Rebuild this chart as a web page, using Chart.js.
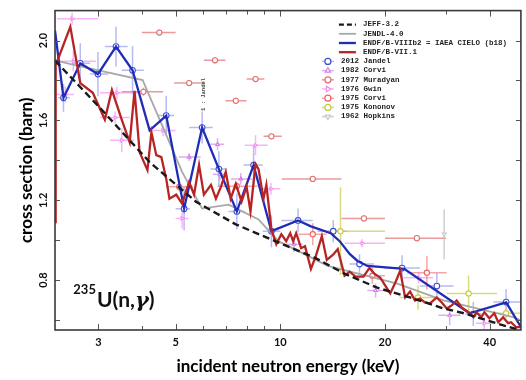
<!DOCTYPE html>
<html>
<head>
<meta charset="utf-8">
<script src="https://cdn.jsdelivr.net/npm/chart.js@4.4.1/dist/chart.umd.min.js"></script>
<style>
  html, body { margin: 0; padding: 0; background: #fff; }
</style>
</head>
<body>
<canvas id="chart" width="526" height="380"></canvas>
<script>
// evaluations: [energy (keV), cross section (barn)]
const jeff32 = [
  [2.25, 1.90], [3.03, 1.663], [4.21, 1.391], [5.72, 1.193], [7.45, 1.079], [9.68, 0.995],
  [12.6, 0.911], [15.3, 0.832], [19.0, 0.762], [23.6, 0.713], [29.5, 0.658], [33.7, 0.634],
  [41.8, 0.584], [48.6, 0.55]
];
const jendl40 = [
  [2.25, 1.901], [2.66, 1.871], [4.02, 1.802], [5.22, 1.342], [5.96, 1.158], [7.11, 1.178],
  [8.66, 1.104], [9.87, 0.995], [13.7, 0.871], [21.7, 0.782], [29.5, 0.698], [46.7, 0.614],
  [49.2, 0.599]
];
const endf8b2 = [
  [2.25, 2.05], [2.38, 1.713], [2.66, 1.886], [2.99, 1.832], [3.37, 1.970], [3.76, 1.851],
  [4.21, 1.550], [4.70, 1.624], [5.29, 1.158], [5.96, 1.564], [6.66, 1.356], [7.50, 1.144],
  [8.38, 1.376], [9.43, 1.045], [11.25, 1.099], [12.25, 1.069], [13.97, 1.035], [14.82, 0.995],
  [15.83, 0.931], [16.68, 0.896], [17.81, 0.871], [22.71, 0.856], [35.0, 0.634], [44.63, 0.688],
  [49.23, 0.564]
];
const endf71 = [
  [2.25, 1.09], [2.26, 1.876], [2.49, 2.069], [2.66, 1.787], [2.89, 1.738], [3.13, 1.604],
  [3.28, 1.752], [3.50, 1.604], [3.69, 1.490], [3.81, 1.748], [3.94, 1.441], [4.15, 1.351],
  [4.26, 1.540], [4.40, 1.426], [4.55, 1.416], [4.70, 1.307], [4.80, 1.208], [5.02, 1.228],
  [5.22, 1.183], [5.47, 1.292], [5.65, 1.228], [5.84, 1.376], [6.03, 1.228], [6.32, 1.277],
  [6.53, 1.208], [6.75, 1.267], [6.97, 1.342], [7.20, 1.208], [7.45, 1.282], [7.74, 1.193],
  [8.00, 1.267], [8.21, 1.144], [8.49, 1.381], [8.66, 1.356], [8.95, 1.208], [9.12, 1.277],
  [9.43, 1.054], [9.74, 0.980], [10.07, 1.030], [10.40, 0.995], [10.68, 1.035], [10.89, 0.995],
  [11.11, 1.035], [11.48, 0.960], [11.78, 0.970], [12.25, 0.856], [12.66, 0.921], [13.17, 1.020],
  [13.61, 0.901], [14.16, 0.926], [14.63, 0.955], [15.31, 0.822], [15.83, 0.842], [16.46, 0.817],
  [17.35, 0.817], [18.05, 0.861], [18.65, 0.832], [19.40, 0.812], [20.04, 0.772], [20.71, 0.733],
  [21.41, 0.787], [22.12, 0.847], [22.86, 0.713], [23.62, 0.743], [24.40, 0.698], [25.22, 0.708],
  [26.06, 0.688], [26.93, 0.683], [28.19, 0.713], [29.13, 0.688], [30.11, 0.658], [31.11, 0.673],
  [32.15, 0.698], [33.22, 0.663], [34.78, 0.639], [35.94, 0.614], [36.65, 0.639], [37.87, 0.614],
  [38.63, 0.639], [39.92, 0.609], [41.25, 0.634], [42.35, 0.589], [43.75, 0.614], [45.21, 0.584],
  [46.11, 0.589], [47.65, 0.564], [49.23, 0.564]
];

// measurements: [energy, cross section, energy low, energy high, cross section error]
const jandel2012 = [
  [2.38, 1.713, 2.30, 2.48, 0.07], [2.66, 1.886, 2.52, 2.84, 0.10], [2.99, 1.832, 2.84, 3.20, 0.11],
  [3.37, 1.970, 3.13, 3.64, 0.10], [3.76, 1.851, 3.50, 4.05, 0.12], [4.70, 1.624, 4.45, 4.95, 0.10],
  [5.29, 1.158, 5.00, 5.50, 0.11], [5.96, 1.564, 5.47, 6.40, 0.08], [6.66, 1.356, 6.30, 7.00, 0.09],
  [7.50, 1.144, 7.10, 7.90, 0.09], [8.38, 1.376, 7.84, 8.90, 0.10], [9.43, 1.045, 8.90, 10.0, 0.08],
  [11.25, 1.099, 10.07, 12.4, 0.06], [14.2, 1.045, 12.8, 15.6, 0.055], [16.9, 0.88, 15.8, 18.6, 0.05],
  [22.4, 0.86, 19.9, 25.2, 0.065], [28.2, 0.77, 25.2, 31.5, 0.065], [35.9, 0.63, 34.0, 38.0, 0.06],
  [44.6, 0.69, 41.0, 49.0, 0.065]
];
const corvi1982 = [
  [5.47, 1.416, 5.1, 5.9, 0.02], [6.6, 1.48, 6.3, 6.9, 0.03], [6.7, 1.33, 6.4, 7.0, 0.03],
  [7.7, 1.307, 7.2, 8.3, 0.03], [10.95, 0.98, 10.4, 11.6, 0.04], [18.8, 0.748, 17.8, 20.0, 0.035],
  [30.7, 0.624, 28.5, 33.0, 0.05]
];
const muradyan1977 = [
  [4.49, 2.040, 4.0, 5.0, 0.015], [6.49, 1.901, 6.03, 6.96, 0.015], [5.47, 1.787, 4.95, 6.03, 0.015],
  [8.49, 1.807, 8.0, 9.0, 0.015], [7.45, 1.698, 6.96, 8.0, 0.015], [9.43, 1.520, 8.95, 10.1, 0.015],
  [12.4, 1.307, 10.1, 15.0, 0.015], [17.4, 1.109, 15.0, 20.0, 0.015], [24.7, 1.010, 20.0, 30.0, 0.015],
  [4.04, 1.743, 3.5, 4.6, 0.02]
];
const gwin1976 = [
  [2.52, 2.109, 2.28, 3.0, 0.03], [2.54, 1.896, 2.28, 2.95, 0.05], [2.41, 1.73, 2.26, 2.55, 0.04],
  [3.39, 1.738, 3.03, 3.94, 0.03], [3.35, 1.614, 3.03, 3.69, 0.03], [3.50, 1.50, 3.24, 3.80, 0.06],
  [4.6, 1.55, 4.2, 5.0, 0.03], [8.49, 1.475, 7.9, 9.2, 0.05], [9.4, 1.257, 8.9, 10.0, 0.03],
  [5.22, 1.109, 5.0, 5.45, 0.05], [17.2, 0.985, 15.3, 20.0, 0.02], [25.0, 0.812, 22.6, 27.5, 0.03],
  [38.6, 0.584, 36.5, 41.0, 0.03]
];
const corvi1975 = [
  [5.12, 1.267, 4.7, 5.6, 0.02], [7.5, 1.27, 6.6, 8.6, 0.02], [12.4, 1.030, 11.3, 13.6, 0.055],
  [18.4, 0.822, 17.0, 20.0, 0.04], [26.4, 0.837, 23.2, 30.1, 0.085]
];
const kononov1975 = [
  [14.9, 1.045, 13.7, 20.0, 0.22], [24.9, 0.713, 22.0, 28.0, 0.06], [34.8, 0.733, 30.1, 42.0, 0.09],
  [44.6, 0.634, 41.8, 49.0, 0.025]
];
const hopkins1962 = [
  [29.6, 1.030, 29.6, 29.6, 0.125]
];

const xTicks = [3, 4, 5, 6, 7, 8, 9, 10, 20, 30, 40];
const xLabels = [3, 5, 10, 20, 40];
const yTicks = [0.6, 0.8, 1.0, 1.2, 1.4, 1.6, 1.8, 2.0];
const yLabels = [0.8, 1.2, 1.6, 2.0];

const toXY = rows => rows.map(r => ({ x: r[0], y: r[1] }));
const toErr = rows => rows.map(r => ({ x: r[0], y: r[1], xMin: r[2], xMax: r[3], yErr: r[4] }));

function evalLine(label, rows, color, width, dash, order) {
  return {
    label, data: toXY(rows), showLine: true, isLine: true,
    borderColor: color, backgroundColor: color, borderWidth: width,
    borderDash: dash, pointRadius: 0, order
  };
}

function measured(label, rows, color, barColor, style, radius, rotation) {
  return {
    label, data: toErr(rows), showLine: false, barColor,
    pointStyle: style, rotation: rotation || 0, pointRadius: radius,
    borderColor: color, backgroundColor: '#fff', borderWidth: 1.1, order: 10
  };
}

const datasets = [
  evalLine('JEFF-3.2', jeff32, '#1a1a1a', 2.4, [7, 4], 0),
  evalLine('JENDL-4.0', jendl40, '#a8a8a8', 1.8, [], 3),
  evalLine('ENDF/B-VIIIb2 = IAEA CIELO (b18)', endf8b2, '#1f2cb8', 2.3, [], 2),
  evalLine('ENDF/B-VII.1', endf71, '#b82424', 2.3, [], 1),
  measured('2012 Jandel', jandel2012, '#4050d0', 'rgba(110,120,230,0.5)', 'circle', 2.8),
  measured('1982 Corvi', corvi1982, '#d080e8', 'rgba(200,120,230,0.6)', 'triangle', 2),
  measured('1977 Muradyan', muradyan1977, '#e07070', 'rgba(225,100,100,0.65)', 'circle', 2.6),
  measured('1976 Gwin', gwin1976, '#f090f0', 'rgba(245,130,245,0.6)', 'triangle', 2, 90),
  measured('1975 Corvi', corvi1975, '#f06060', 'rgba(240,120,120,0.65)', 'circle', 2.6),
  measured('1975 Kononov', kononov1975, '#c8c840', 'rgba(205,205,90,0.75)', 'circle', 2.6),
  measured('1962 Hopkins', hopkins1962, '#c8c8c8', 'rgba(190,190,190,0.75)', 'triangle', 2.4, 180)
];

// error bars behind everything, through the scales
const errorBars = {
  id: 'errorBars',
  beforeDatasetsDraw(chart) {
    const { ctx, chartArea: a, scales: { x, y } } = chart;
    ctx.save();
    ctx.beginPath();
    ctx.rect(a.left, a.top, a.right - a.left, a.bottom - a.top);
    ctx.clip();
    ctx.lineWidth = 1.5;
    chart.data.datasets.forEach(ds => {
      if (!ds.barColor) return;
      ctx.strokeStyle = ds.barColor;
      ds.data.forEach(p => {
        const px = x.getPixelForValue(p.x), py = y.getPixelForValue(p.y);
        ctx.beginPath();
        ctx.moveTo(x.getPixelForValue(p.xMin), py);
        ctx.lineTo(x.getPixelForValue(p.xMax), py);
        ctx.moveTo(px, y.getPixelForValue(p.y - p.yErr));
        ctx.lineTo(px, y.getPixelForValue(p.y + p.yErr));
        ctx.stroke();
      });
    });
    ctx.restore();
  }
};

// box, inward ticks, legend and reaction label
const decorations = {
  id: 'decorations',
  afterDraw(chart) {
    const { ctx, chartArea: a, scales: { x, y } } = chart;
    ctx.save();

    ctx.strokeStyle = '#555';
    ctx.lineWidth = 1;
    xTicks.forEach(v => {
      const px = Math.round(x.getPixelForValue(v)) + 0.5;
      const len = xLabels.includes(v) ? 6 : 4;
      ctx.beginPath();
      ctx.moveTo(px, a.bottom); ctx.lineTo(px, a.bottom - len);
      ctx.moveTo(px, a.top); ctx.lineTo(px, a.top + len);
      ctx.stroke();
    });
    yTicks.forEach(v => {
      const py = Math.round(y.getPixelForValue(v)) + 0.5;
      ctx.beginPath();
      ctx.moveTo(a.left, py); ctx.lineTo(a.left + 5, py);
      ctx.moveTo(a.right, py); ctx.lineTo(a.right - 5, py);
      ctx.stroke();
    });
    ctx.strokeStyle = '#3a3a3a';
    ctx.lineWidth = 1.6;
    ctx.strokeRect(a.left, a.top, a.right - a.left, a.bottom - a.top);

    // legend
    ctx.font = 'bold 7.5px "Liberation Mono", monospace';
    ctx.textBaseline = 'middle';
    ctx.textAlign = 'left';
    chart.data.datasets.forEach((ds, i) => {
      const ly = a.top + 14 + i * 9.2;
      if (ds.isLine) {
        ctx.strokeStyle = ds.borderColor;
        ctx.lineWidth = ds.borderWidth;
        ctx.setLineDash(ds.borderDash.length ? [5, 3] : []);
        ctx.beginPath();
        ctx.moveTo(a.right - 182, ly); ctx.lineTo(a.right - 165, ly);
        ctx.stroke();
        ctx.setLineDash([]);
        ctx.fillStyle = '#222';
        ctx.fillText(ds.label, a.right - 158, ly);
      } else {
        const mx = a.right - 193;
        ctx.strokeStyle = ds.barColor;
        ctx.lineWidth = 1.5;
        ctx.beginPath();
        ctx.moveTo(mx - 6, ly); ctx.lineTo(mx + 6, ly);
        ctx.stroke();
        ctx.strokeStyle = ds.borderColor;
        ctx.fillStyle = '#fff';
        ctx.lineWidth = 1.2;
        Chart.helpers.drawPoint(ctx, { pointStyle: ds.pointStyle, radius: 3, rotation: ds.rotation, borderWidth: 1.2 }, mx, ly);
        ctx.fillStyle = '#222';
        ctx.fillText(ds.label, a.right - 180, ly);
      }
    });

    // 1:Jandel marker label
    ctx.save();
    ctx.translate(x.getPixelForValue(5.96) + 1, y.getPixelForValue(1.73));
    ctx.rotate(-Math.PI / 2);
    ctx.font = 'bold 5.5px "Liberation Mono", monospace';
    ctx.textAlign = 'center';
    ctx.fillStyle = '#444';
    ctx.fillText('1 : Jandel', 0, 0);
    ctx.restore();

    // reaction label
    let lx = x.getPixelForValue(2.54);
    const ly = y.getPixelForValue(0.663);
    ctx.fillStyle = '#111';
    ctx.textBaseline = 'alphabetic';
    ctx.font = 'bold 13px Lato';
    ctx.fillText('235', lx, ly - 13);
    lx += ctx.measureText('235').width + 1;
    ctx.font = 'bold 21px Lato';
    ctx.fillText('U(n,', lx, ly);
    lx += ctx.measureText('U(n,').width;
    ctx.font = 'italic bold 21px "DejaVu Serif"';
    ctx.fillText('\u03b3', lx, ly);
    lx += ctx.measureText('\u03b3').width;
    ctx.font = 'bold 21px Lato';
    ctx.fillText(')', lx, ly);

    ctx.restore();
  }
};

new Chart(document.getElementById('chart'), {
  type: 'scatter',
  data: { datasets },
  plugins: [errorBars, decorations],
  options: {
    responsive: false,
    animation: false,
    layout: { padding: { top: 7, right: 1, left: 0, bottom: 0 } },
    plugins: { legend: { display: false }, tooltip: { enabled: false } },
    elements: { line: { tension: 0 } },
    scales: {
      x: {
        type: 'logarithmic',
        min: 2.25,
        max: 49.2,
        grid: { display: false, drawTicks: false },
        border: { display: false },
        afterBuildTicks: s => { s.ticks = xTicks.map(v => ({ value: v })); },
        afterFit: s => { s.height = 50; },
        ticks: {
          autoSkip: false, maxRotation: 0, padding: 6, color: '#111',
          font: { family: 'Lato', weight: 'bold', size: 11 },
          callback: v => xLabels.includes(v) ? String(v) : ''
        },
        title: {
          display: true, text: 'incident neutron energy (keV)', color: '#000',
          font: { family: 'Lato', weight: 'bold', size: 17 },
          padding: { top: 0, bottom: 3 }
        }
      },
      y: {
        type: 'linear',
        min: 0.55,
        max: 2.15,
        grid: { display: false, drawTicks: false },
        border: { display: false },
        afterBuildTicks: s => { s.ticks = yTicks.map(v => ({ value: v })); },
        afterFit: s => { s.width = 55; },
        ticks: {
          minRotation: 90, maxRotation: 90, crossAlign: 'center', padding: 4, color: '#111',
          font: { family: 'Lato', weight: 'bold', size: 11 },
          callback: v => yLabels.some(l => Math.abs(l - v) < 1e-6) ? v.toFixed(1) : ''
        },
        title: {
          display: true, text: 'cross section (barn)', color: '#000',
          font: { family: 'Lato', weight: 'bold', size: 17 },
          padding: { top: 16, bottom: 0 }
        }
      }
    }
  }
});
</script>
</body>
</html>
